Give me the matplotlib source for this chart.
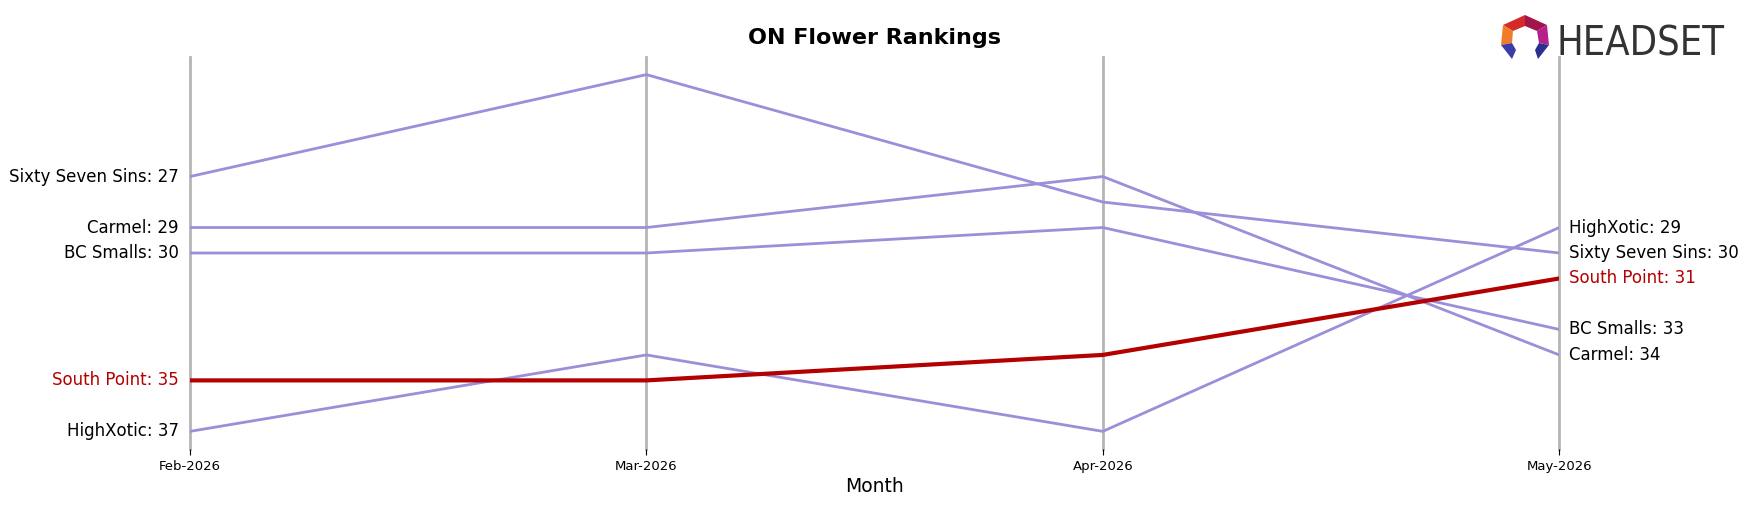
import matplotlib.pyplot as plt
from matplotlib.patches import Polygon

# monthly ranks per brand (lower is better)
months = ['Feb-2026', 'Mar-2026', 'Apr-2026', 'May-2026']
sixty_seven_sins = [27, 23, 28, 30]
carmel = [29, 29, 27, 34]
bc_smalls = [30, 30, 29, 33]
south_point = [35, 35, 34, 31]
highxotic = [37, 34, 37, 29]

brands = ['Sixty Seven Sins', 'Carmel', 'BC Smalls', 'HighXotic', 'South Point']
ranks = [sixty_seven_sins, carmel, bc_smalls, highxotic, south_point]
highlight = 'South Point'

purple = '#9b8fd9'
red = '#b30000'

fig = plt.figure(figsize=(17.48, 5.07), dpi=100)
ax = fig.add_axes([0.1087, 0.114, 0.7833, 0.774])

x = list(range(len(months)))
for xi in x:
    ax.axvline(xi, color='#b5b5b5', lw=2, zorder=0, clip_on=False)

for name, r in zip(brands, ranks):
    if name == highlight:
        ax.plot(x, r, color=red, lw=3, zorder=3)
    else:
        ax.plot(x, r, color=purple, lw=2, zorder=2)

ax.invert_yaxis()
ax.margins(x=0)

# labels at both ends
for name, r in zip(brands, ranks):
    c = red if name == highlight else 'black'
    ax.annotate(f'{name}: {r[0]}', (x[0], r[0]), xytext=(-8, 0), textcoords='offset points',
                ha='right', va='center', fontsize=12, color=c)
    ax.annotate(f'{name}: {r[-1]}', (x[-1], r[-1]), xytext=(7, 0), textcoords='offset points',
                ha='left', va='center', fontsize=12, color=c)

ax.set_xticks(x)
ax.set_xticklabels(months, fontsize=9.5)
ax.tick_params(axis='x', length=4, width=0.8)
ax.set_yticks([])
for s in ax.spines.values():
    s.set_visible(False)
ax.set_xlabel('Month', fontsize=13.5)
ax.xaxis.set_label_coords(0.5, -0.072)
fig.text(0.5, 1 - 44 / 507, 'ON Flower Rankings', fontsize=16, fontweight='bold',
         ha='center', va='baseline')

# rough headset logo, pixel coords (y measured from top)
H = 507
def px(pts):
    return [(a, H - b) for a, b in pts]

pieces = [
    ([(1503, 25), (1525, 15), (1525, 26), (1513, 31)], '#d42a2a'),
    ([(1525, 15), (1547, 25), (1537, 31), (1525, 26)], '#a3154a'),
    ([(1547, 25), (1549, 45), (1539, 43), (1537, 31)], '#b6208a'),
    ([(1503, 25), (1513, 31), (1512, 43), (1501, 45)], '#f07b2a'),
    ([(1501, 45), (1512, 43), (1516, 50), (1512, 59)], '#3c3ca8'),
    ([(1549, 45), (1539, 43), (1535, 50), (1538, 59)], '#2d2f8e'),
]
for pts, col in pieces:
    fig.add_artist(Polygon(px(pts), closed=True, transform=None, color=col, lw=0))
logo = fig.text(1557 / 1748, 1 - 55 / H, 'HEADSET', fontsize=30, color='#333333',
                stretch='condensed', va='baseline', ha='left')
r = fig.canvas.get_renderer()
w = logo.get_window_extent(r).width
logo.set_fontsize(30 * 168 / w)

fig.savefig('out.png', dpi=100)
